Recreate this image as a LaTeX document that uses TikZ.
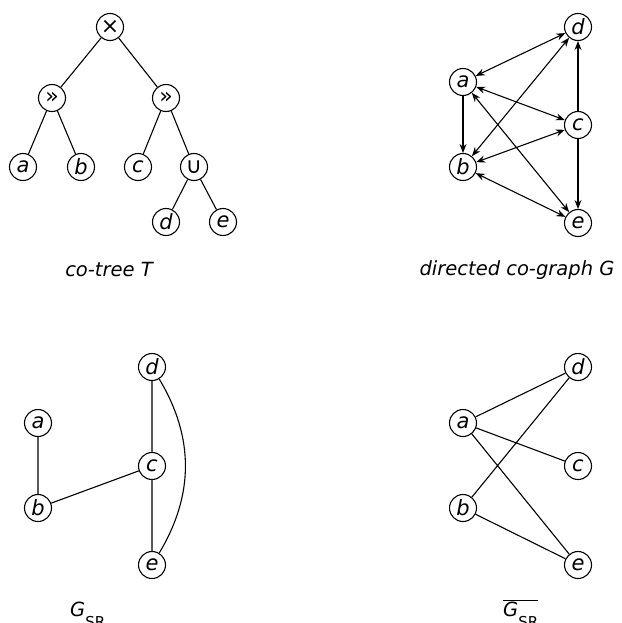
\documentclass[tikz,border=0pt]{standalone}
\usepackage{fontspec}
\setmainfont{DejaVu Sans}
\usetikzlibrary{arrows.meta}
\begin{document}
\begin{tikzpicture}[x=1pt,y=-1pt,
  vx/.style={circle,draw,line width=1.1pt,minimum size=27pt,inner sep=0pt,font=\fontsize{21}{24}\selectfont\itshape},
  op/.style={circle,draw,line width=1.1pt,minimum size=27pt,inner sep=0pt,font=\fontsize{22}{24}\selectfont},
  lbl/.style={font=\fontsize{19.5}{22}\selectfont\itshape,inner sep=0pt},
  ed/.style={line width=1.1pt},
  ar/.style={line width=1.1pt,-{Stealth[length=9pt,width=7pt]}},
  bar/.style={line width=1.1pt,{Stealth[length=9pt,width=7pt]}-{Stealth[length=9pt,width=7pt]}}]
\useasboundingbox (0,0) rectangle (621,623);
% co-tree
\node[op] (r) at (110,27) {×};
\node[op] (l1) at (52,98) {»};
\node[op] (r1) at (166,98) {»};
\node[vx] (ta) at (23,167) {a};
\node[vx] (tb) at (81,167) {b};
\node[vx] (tc) at (138,167) {c};
\node[op] (u) at (194,167) {∪};
\node[vx] (td) at (166,222) {d};
\node[vx] (te) at (223,222) {e};
\draw[ed] (r) -- (l1) (r) -- (r1) (l1) -- (ta) (l1) -- (tb) (r1) -- (tc) (r1) -- (u) (u) -- (td) (u) -- (te);
\node[lbl] (lt) at (109,270) {co-tree T};
% directed co-graph
\node[vx] (gd) at (578,27) {d};
\node[vx] (ga) at (463,82) {a};
\node[vx] (gc) at (578,125) {c};
\node[vx] (gb) at (463,167) {b};
\node[vx] (ge) at (578,223) {e};
\draw[bar] (ga) -- (gd);
\draw[bar] (gb) -- (gd);
\draw[ar] (ga) -- (gb);
\draw[bar] (ga) -- (gc);
\draw[bar] (ga) -- (ge);
\draw[bar] (gb) -- (gc);
\draw[bar] (gb) -- (ge);
\draw[ar] (gc) -- (gd);
\draw[ar] (gc) -- (ge);
\node[lbl] (lg) at (517,270) {directed co-graph G};
% G_SR
\node[vx] (sd) at (152,367) {d};
\node[vx] (sa) at (38,423) {a};
\node[vx] (sc) at (152,466) {c};
\node[vx] (sb) at (38,508) {b};
\node[vx] (se) at (152,565) {e};
\draw[ed] (sa) -- (sb) (sb) -- (sc) (sd) -- (sc) (sc) -- (se);
\draw[ed] (sd) to[bend left=31] (se);
\node[lbl,anchor=base west] (ls) at (70,616) {G\textup{\fontsize{15}{17}\selectfont\raisebox{-11pt}{SR}}};
% complement
\node[vx,font=\fontsize{21}{24}\selectfont\itshape] (cd) at (578,367) {d};
\node[vx] (ca) at (463,423) {a};
\node[vx] (cc) at (578,466) {c};
\node[vx] (cb) at (463,508) {b};
\node[vx] (ce) at (578,565) {e};
\draw[ed] (ca) -- (cd) (ca) -- (cc) (ca) -- (ce) (cb) -- (cd) (cb) -- (ce);
\node[lbl,anchor=base west] (lc) at (503,616) {$\overline{\hbox{G\textup{\fontsize{15}{17}\selectfont\raisebox{-11pt}{SR}}}}$};
\end{tikzpicture}
\end{document}
